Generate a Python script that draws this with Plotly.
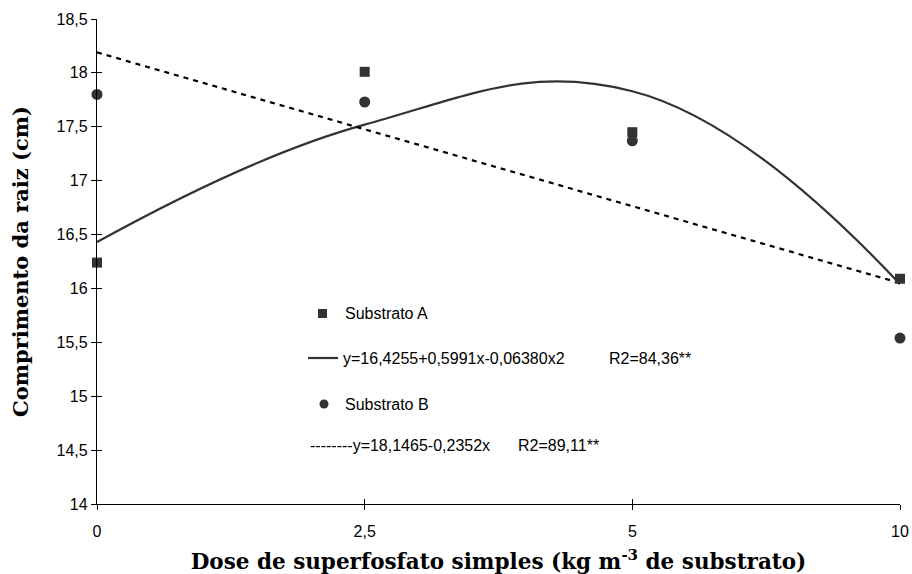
import plotly.graph_objects as go

# ---- data ----
doses = ["0", "2,5", "5", "10"]
xpos = [0, 1, 2, 3]
subA = [16.24, 18.01, 17.45, 16.09]
subB = [17.80, 17.73, 17.37, 15.54]
fitA = [16.43, 17.52, 17.83, 16.04]   # fitted curve A (smoothed)
fitB = [18.19, 17.477, 16.763, 16.05]  # fitted line B
ytick_vals = [14, 14.5, 15, 15.5, 16, 16.5, 17, 17.5, 18, 18.5]
ytick_text = ["14", "14,5", "15", "15,5", "16", "16,5", "17", "17,5", "18", "18,5"]

DARK = "#333333"
SANS = "Liberation Sans, Arial, sans-serif"
SERIF = "DejaVu Serif, serif"

fig = go.Figure()
fig.add_trace(go.Scatter(x=xpos, y=fitA, mode="lines", line=dict(color=DARK, width=2.2, shape="spline", smoothing=1.2),
                         showlegend=False, hoverinfo="skip"))
fig.add_trace(go.Scatter(x=xpos, y=fitB, mode="lines", line=dict(color="black", width=2.2, dash="5px,5px"),
                         showlegend=False, hoverinfo="skip"))
fig.add_trace(go.Scatter(x=xpos, y=subA, mode="markers", marker=dict(symbol="square", size=10, color=DARK),
                         showlegend=False, cliponaxis=False))
fig.add_trace(go.Scatter(x=xpos, y=subB, mode="markers", marker=dict(symbol="circle", size=11, color=DARK),
                         showlegend=False, cliponaxis=False))
# overlay axes to get crossing ticks
fig.add_trace(go.Scatter(x=[None], y=[None], xaxis="x2", yaxis="y2", showlegend=False))

L, R, T, B = 97, 12, 19, 70
W, H = 912, 574
pw, ph = W - L - R, H - T - B

def px(xp):
    return (xp - L) / pw

def py(yp):
    return (H - B - yp) / ph

fig.update_layout(
    width=W, height=H, margin=dict(l=L, r=R, t=T, b=B),
    plot_bgcolor="white", paper_bgcolor="white",
    xaxis=dict(range=[0, 3], tickvals=xpos, ticktext=doses, showgrid=False, zeroline=False, automargin=False,
               showline=True, linecolor="black", linewidth=1.3, ticks="outside", ticklen=5, tickcolor="black",
               ticklabelstandoff=8,
               tickfont=dict(family=SANS, size=16, color="black"),
               title=dict(text="Dose de superfosfato simples (kg m<sup>-3</sup> de substrato)",
                          font=dict(family=SERIF, size=21.5, color="black", weight="bold"), standoff=14)),
    yaxis=dict(range=[14, 18.5], tickvals=ytick_vals, ticktext=ytick_text, showgrid=False, zeroline=False,
               automargin=False,
               showline=True, linecolor="black", linewidth=1.3, ticks="outside", ticklen=5, tickcolor="black",
               tickfont=dict(family=SANS, size=16, color="black"),
               title=dict(text="Comprimento da raiz (cm)",
                          font=dict(family=SERIF, size=21, color="black", weight="bold"), standoff=22)),
    xaxis2=dict(overlaying="x", range=[0, 3], tickvals=xpos, showticklabels=False, showgrid=False, zeroline=False,
                ticks="inside", ticklen=5, tickcolor="black", anchor="y2", side="bottom"),
    yaxis2=dict(overlaying="y", range=[14, 18.5], tickvals=ytick_vals, showticklabels=False, showgrid=False,
                zeroline=False, ticks="inside", ticklen=5, tickcolor="black", anchor="x2", side="left"),
)

# custom legend
shapes = [
    dict(type="rect", xref="paper", yref="paper", x0=px(318), x1=px(327), y0=py(318), y1=py(309),
         fillcolor=DARK, line=dict(width=0)),
    dict(type="line", xref="paper", yref="paper", x0=px(308), x1=px(338), y0=py(358), y1=py(358),
         line=dict(color=DARK, width=2.2)),
    dict(type="circle", xref="paper", yref="paper", x0=px(319.5), x1=px(328.5), y0=py(408.5), y1=py(399.5),
         fillcolor=DARK, line=dict(width=0)),
]
fig.update_layout(shapes=shapes)

ann = [
    (343, 313, "Substrato A"),
    (341, 358, "y=16,4255+0,5991x-0,06380x2"),
    (607, 358, "R2=84,36**"),
    (343, 404, "Substrato B"),
    (308, 445, "--------y=18,1465-0,2352x"),
    (516, 445, "R2=89,11**"),
]
for xp, yp, t in ann:
    fig.add_annotation(x=px(xp), y=py(yp), xref="paper", yref="paper", text=t, showarrow=False,
                       xanchor="left", yanchor="middle", font=dict(family=SANS, size=16, color="black"))

fig.write_html("out.html")
